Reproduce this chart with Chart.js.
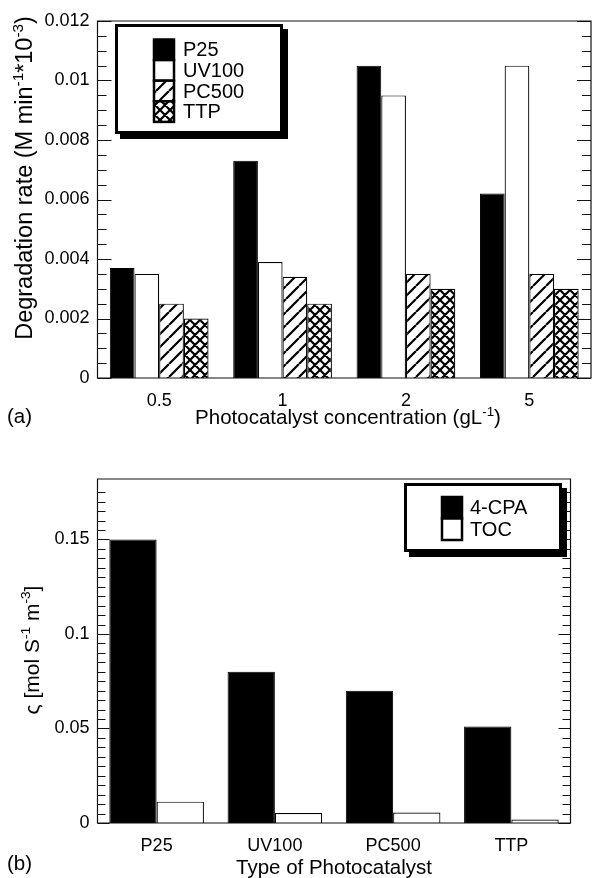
<!DOCTYPE html>
<html>
<head>
<meta charset="utf-8">
<script src="https://cdn.jsdelivr.net/npm/chart.js@4.4.1/dist/chart.umd.min.js"></script>
<style>
  html, body { margin: 0; padding: 0; background: #fff; }
  #wrap { position: relative; width: 592px; height: 878px; }
  #chartA { position: absolute; left: 0; top: 0; }
  #chartB { position: absolute; left: 0; top: 440px; }
</style>
</head>
<body>
<div id="wrap">
  <canvas id="chartA" width="592" height="440"></canvas>
  <canvas id="chartB" width="592" height="438"></canvas>
</div>
<script>
// panel (a): degradation rate vs photocatalyst loading
const concLabels = ["0.5", "1", "2", "5"];
const p25Rate = [0.0037, 0.0073, 0.0105, 0.0062];
const uv100Rate = [0.0035, 0.0039, 0.0095, 0.0105];
const pc500Rate = [0.0025, 0.0034, 0.0035, 0.0035];
const ttpRate = [0.0020, 0.0025, 0.0030, 0.0030];
const rateTicks = [0, 0.002, 0.004, 0.006, 0.008, 0.01, 0.012];

// panel (b): photonic efficiency per catalyst
const catalystLabels = ["P25", "UV100", "PC500", "TTP"];
const cpaVals = [0.150, 0.080, 0.070, 0.051];
const tocVals = [0.0113, 0.0053, 0.0055, 0.0018];
const sigmaTicks = [0, 0.05, 0.1, 0.15];

const FONT = "'Liberation Sans', Arial, Helvetica, sans-serif";
Chart.defaults.font.family = FONT;
Chart.defaults.color = '#000';

const fmt = v => String(+Number(v).toFixed(4));

function makeHatch(ctx, size, cross) {
  const c = document.createElement('canvas');
  c.width = size; c.height = size;
  const g = c.getContext('2d');
  g.fillStyle = '#fff';
  g.fillRect(0, 0, size, size);
  g.strokeStyle = '#000';
  g.lineWidth = 2.2;
  g.beginPath();
  for (const k of [-size, 0, size]) {
    g.moveTo(k, size); g.lineTo(k + size, 0);
    if (cross) { g.moveTo(k, 0); g.lineTo(k + size, size); }
  }
  g.stroke();
  return ctx.createPattern(c, 'repeat');
}

// text with superscripts, optionally rotated (centre at x,y)
function drawRich(ctx, parts, x, y, size, rotate) {
  const sup = size * 0.65;
  let w = 0;
  parts.forEach(([t, s]) => {
    ctx.font = `${s ? sup : size}px ${FONT}`;
    w += ctx.measureText(t).width;
  });
  ctx.save();
  ctx.translate(x, y);
  if (rotate) ctx.rotate(-Math.PI / 2);
  ctx.fillStyle = '#000';
  ctx.textBaseline = 'alphabetic';
  ctx.textAlign = 'left';
  let u = -w / 2;
  const base = size * 0.36;
  parts.forEach(([t, s]) => {
    ctx.font = `${s ? sup : size}px ${FONT}`;
    ctx.fillText(t, u, s ? base - size * 0.42 : base);
    u += ctx.measureText(t).width;
  });
  ctx.restore();
}

// box, inward ticks on both y sides
const frame = {
  id: 'frame',
  afterDatasetsDraw(chart, args, o) {
    const { ctx, chartArea: a } = chart;
    const y = chart.scales.y;
    ctx.save();
    ctx.strokeStyle = '#111';
    ctx.lineWidth = 1.2;
    ctx.beginPath();
    const n = Math.round(o.top / o.minor);
    for (let i = 0; i <= n; i++) {
      const py = Math.round(y.getPixelForValue(i * o.minor)) + 0.5;
      const len = i % o.per === 0 ? o.majorLen : o.minorLen;
      ctx.moveTo(a.left, py); ctx.lineTo(a.left + len, py);
      ctx.moveTo(a.right, py); ctx.lineTo(a.right - len, py);
    }
    ctx.rect(a.left, a.top, a.right - a.left, a.bottom - a.top);
    ctx.stroke();
    ctx.restore();
  }
};

// titles, panel letter and boxed legend
const notes = {
  id: 'notes',
  afterDraw(chart, args, o) {
    const ctx = chart.ctx;
    ctx.save();
    ctx.fillStyle = '#000';
    ctx.font = `${o.titleSize}px ${FONT}`;
    ctx.textBaseline = 'middle';
    ctx.textAlign = 'left';
    ctx.fillText(o.panel, o.panelX, o.panelY);
    drawRich(ctx, o.xTitle, o.xTitleX, o.xTitleY, o.titleSize, false);
    drawRich(ctx, o.yTitle, o.yTitleX, o.yTitleY, o.yTitleSize, true);

    const L = o.legend;
    const [bx, by, bw, bh] = L.box;
    ctx.fillStyle = '#000';
    ctx.fillRect(bx + L.shadow, by + L.shadow, bw, bh);
    ctx.fillRect(bx, by, bw, bh);
    ctx.fillStyle = '#fff';
    ctx.fillRect(bx + L.border, by + L.border, bw - 2 * L.border, bh - 2 * L.border);
    chart.data.datasets.forEach((ds, i) => {
      const sy = L.swY + i * L.rowH;
      ctx.fillStyle = ds.backgroundColor;
      ctx.fillRect(L.swX, sy, L.swW, L.rowH);
      ctx.strokeStyle = '#000';
      ctx.lineWidth = L.swLine;
      ctx.strokeRect(L.swX, sy, L.swW, L.rowH);
      ctx.fillStyle = '#000';
      ctx.font = `${L.size}px ${FONT}`;
      ctx.textBaseline = 'middle';
      ctx.fillText(ds.label, L.textX, sy + L.rowH / 2 + 1);
    });
    ctx.restore();
  }
};

const ctxA = document.getElementById('chartA').getContext('2d');
const ctxB = document.getElementById('chartB').getContext('2d');

new Chart(ctxA, {
  type: 'bar',
  data: {
    labels: concLabels,
    datasets: [
      { label: 'P25', data: p25Rate, backgroundColor: '#000', borderColor: '#000', borderWidth: 1 },
      { label: 'UV100', data: uv100Rate, backgroundColor: '#fff', borderColor: '#000', borderWidth: 1.2 },
      { label: 'PC500', data: pc500Rate, backgroundColor: makeHatch(ctxA, 13, false), borderColor: '#000', borderWidth: 1.2 },
      { label: 'TTP', data: ttpRate, backgroundColor: makeHatch(ctxA, 10, true), borderColor: '#000', borderWidth: 1.2 }
    ]
  },
  options: {
    responsive: false,
    animation: false,
    layout: { padding: { top: 21, right: 1, left: 0, bottom: 0 } },
    datasets: { bar: { categoryPercentage: 0.8, barPercentage: 1 } },
    plugins: {
      legend: { display: false },
      tooltip: { enabled: false },
      frame: { top: 0.012, minor: 0.0005, per: 4, majorLen: 14, minorLen: 9 },
      notes: {
        panel: '(a)', panelX: 7, panelY: 417, titleSize: 20.5, yTitleSize: 23.5,
        xTitle: [['Photocatalyst concentration (gL', 0], ['-1', 1], [')', 0]],
        xTitleX: 348, xTitleY: 417,
        yTitle: [['Degradation rate (M min', 0], ['-1', 1], ['*10', 0], ['-3', 1], [')', 0]],
        yTitleX: 24, yTitleY: 178,
        legend: { box: [115, 24, 168, 110], shadow: 5, border: 3, swX: 154, swW: 20, swY: 39.5, rowH: 20.6, swLine: 2.5, textX: 183, size: 20 }
      }
    },
    scales: {
      x: {
        grid: { display: false, drawTicks: false },
        border: { display: false },
        ticks: { font: { size: 18 }, padding: 12, color: '#000' },
        afterFit: s => { s.height = 62; }
      },
      y: {
        min: 0, max: 0.012,
        grid: { display: false, drawTicks: false },
        border: { display: false },
        afterBuildTicks: s => { s.ticks = rateTicks.map(v => ({ value: v })); },
        ticks: { font: { size: 18 }, padding: 8, color: '#000', callback: v => fmt(v) },
        afterFit: s => { s.width = 97.5; }
      }
    }
  },
  plugins: [frame, notes]
});

new Chart(ctxB, {
  type: 'bar',
  data: {
    labels: catalystLabels,
    datasets: [
      { label: '4-CPA', data: cpaVals, backgroundColor: '#000', borderColor: '#000', borderWidth: 1 },
      { label: 'TOC', data: tocVals, backgroundColor: '#fff', borderColor: '#000', borderWidth: 1.2 }
    ]
  },
  options: {
    responsive: false,
    animation: false,
    layout: { padding: { top: 39, right: 21.5, left: 0, bottom: 0 } },
    datasets: { bar: { categoryPercentage: 0.8, barPercentage: 1 } },
    plugins: {
      legend: { display: false },
      tooltip: { enabled: false },
      frame: { top: 0.175, minor: 0.005, per: 10, majorLen: 12, minorLen: 8 },
      notes: {
        panel: '(b)', panelX: 7, panelY: 424, titleSize: 20.5, yTitleSize: 21,
        xTitle: [['Type of Photocatalyst', 0]],
        xTitleX: 334, xTitleY: 427,
        yTitle: [['\u03C2 [mol S', 0], ['-1', 1], [' m', 0], ['-3', 1], [']', 0]],
        yTitleX: 31, yTitleY: 210,
        legend: { box: [404, 43, 158, 69], shadow: 5, border: 3, swX: 442, swW: 20, swY: 57, rowH: 21.5, swLine: 2.5, textX: 470, size: 20 }
      }
    },
    scales: {
      x: {
        grid: { display: false, drawTicks: false },
        border: { display: false },
        ticks: { font: { size: 18 }, padding: 12, color: '#000' },
        afterFit: s => { s.height = 55; }
      },
      y: {
        min: 0, max: 0.182,
        grid: { display: false, drawTicks: false },
        border: { display: false },
        afterBuildTicks: s => { s.ticks = sigmaTicks.map(v => ({ value: v })); },
        ticks: { font: { size: 18 }, padding: 8, color: '#000', callback: v => fmt(v) },
        afterFit: s => { s.width = 97.5; }
      }
    }
  },
  plugins: [frame, notes]
});
</script>
</body>
</html>
